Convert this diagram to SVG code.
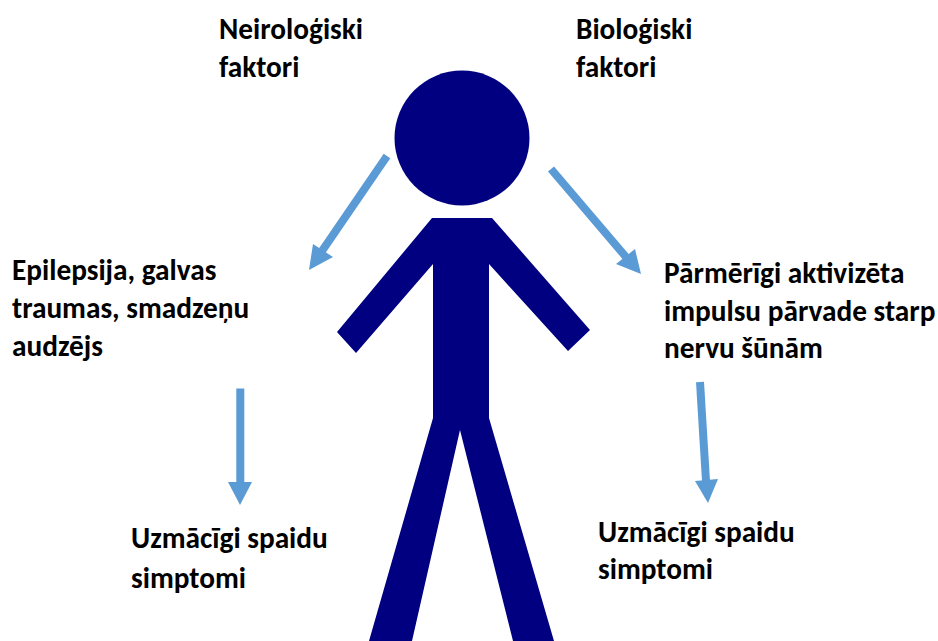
<svg xmlns="http://www.w3.org/2000/svg" width="938" height="641" viewBox="0 0 938 641">
<style>
.t{font-family:Carlito,Calibri,Lato,"Open Sans","Liberation Sans",sans-serif;font-weight:700;font-size:29.3px;fill:#000}
.fig{fill:#000080}
.c{stroke:#5B9BD5;stroke-width:8;fill:none}
.h{fill:#5B9BD5}
</style>
<rect width="938" height="641" fill="#fff"/>
<g id="figure">
<circle class="fig" cx="462" cy="138" r="67.5"/>
<path class="fig" d="M432 218H492L590 330L568 351L489 264V418L554 641H513L460 430L412 641H369L433 418V264L356 353L337 332Z"/>
</g>
<g id="connectors">
<path class="c" d="M387 156L322 251"/>
<path class="h" d="M309 270L333 257L313 244Z"/>
<path class="c" d="M551 169L626 257"/>
<path class="h" d="M641 274L616 264L635 249Z"/>
<path class="c" d="M240.300 388.500V483"/>
<path class="h" d="M240 505L228 482H252Z"/>
<path class="c" d="M700 382L706 481"/>
<path class="h" d="M708 503L695 481L718 479Z"/>
</g>
<g id="n1"><text class="t" x="219" y="39">Neiroloģiski</text><text class="t" x="219" y="77">faktori</text></g>
<g id="n2"><text class="t" x="576" y="39">Bioloģiski</text><text class="t" x="576" y="77">faktori</text></g>
<g id="n3"><text class="t" x="12" y="280">Epilepsija, galvas</text><text class="t" x="12" y="318">traumas, smadzeņu</text><text class="t" x="12" y="356">audzējs</text></g>
<g id="n4"><text class="t" x="664" y="283">Pārmērīgi aktivizēta</text><text class="t" x="664" y="321">impulsu pārvade starp</text><text class="t" x="664" y="358">nervu šūnām</text></g>
<g id="n5"><text class="t" x="131" y="548">Uzmācīgi spaidu</text><text class="t" x="131" y="588">simptomi</text></g>
<g id="n6"><text class="t" x="598" y="542">Uzmācīgi spaidu</text><text class="t" x="598" y="579">simptomi</text></g>
</svg>
